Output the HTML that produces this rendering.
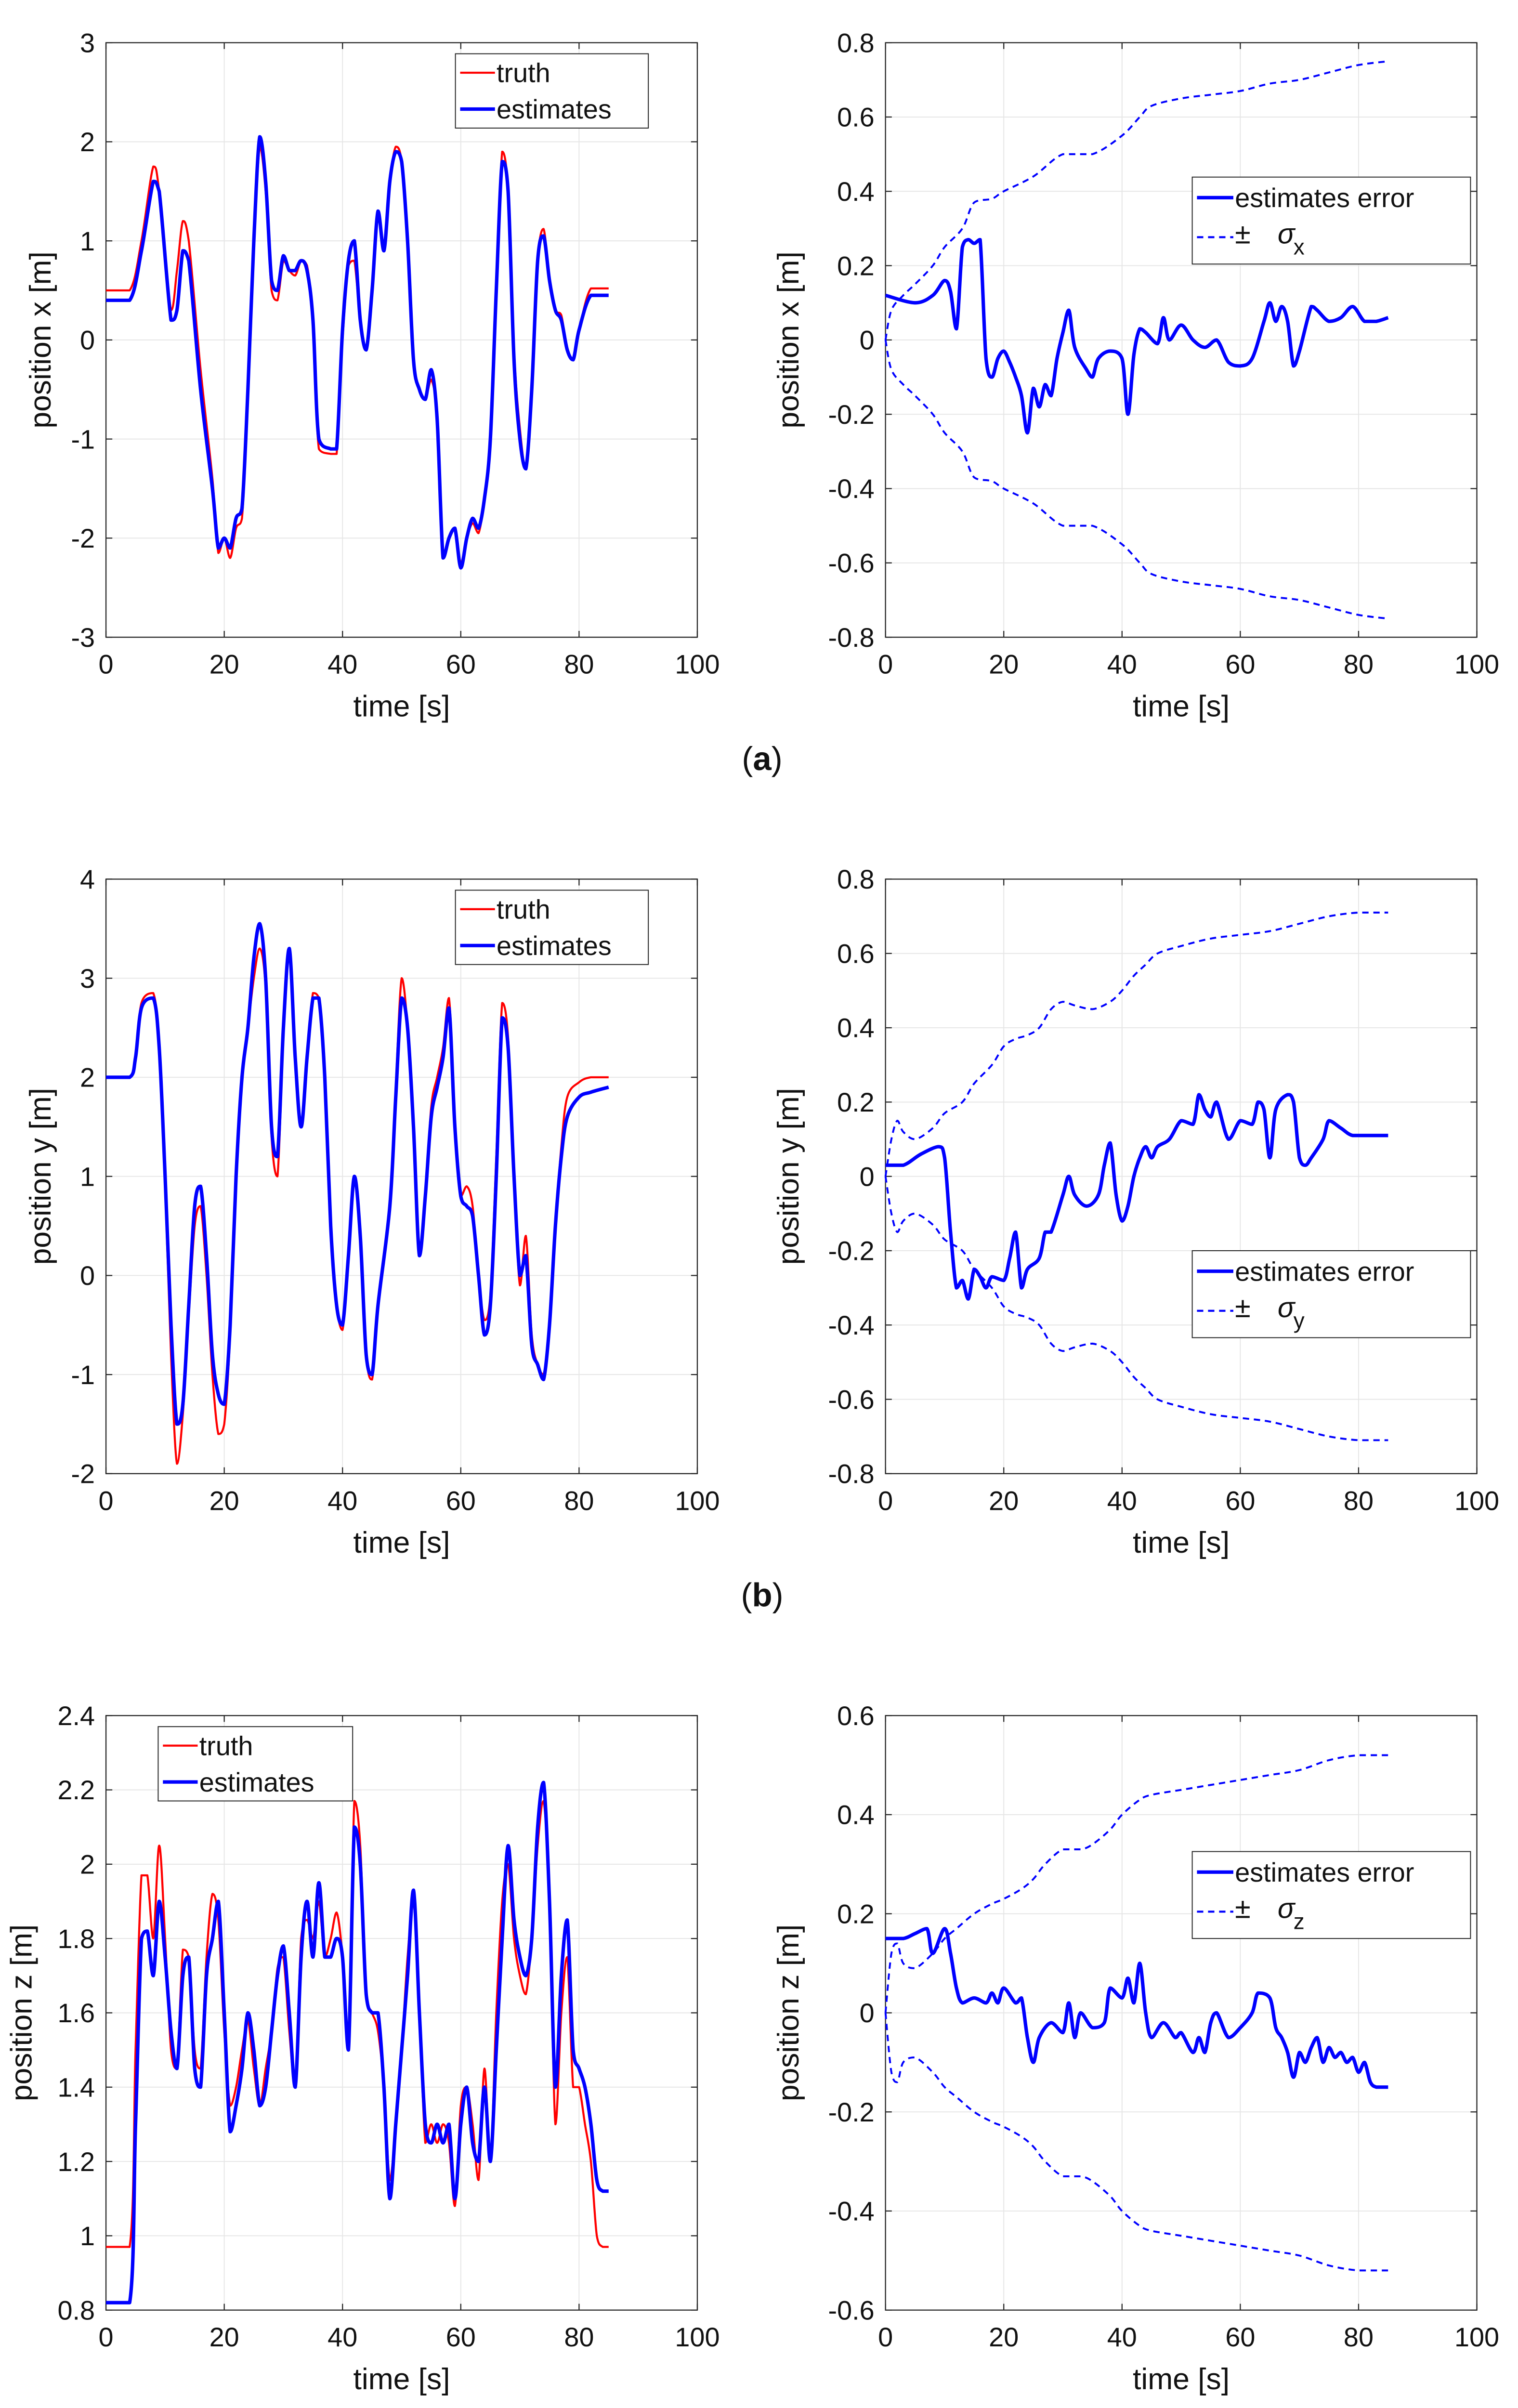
<!DOCTYPE html>
<html><head><meta charset="utf-8"><style>
html,body{margin:0;padding:0;background:#fff;width:3152px;height:5125px;overflow:hidden;position:relative}
svg{display:block;position:absolute;left:0;top:0}
text{font-family:"Liberation Sans",sans-serif;fill:#111}
</style></head><body>
<svg id="fig" width="3152" height="5125" viewBox="0 0 960 1561" xmlns="http://www.w3.org/2000/svg"></svg>
<script>
// ---------- data ----------
const aTimes=[0,4,6,8,9,11,12,13,14,16,18,19,20,21,22,23,24,25,26,27,28,29,30,31,32,33,34,35,36,38,39,40,41,42,43,44,45,46,47,48,49,50,51,52,53,54,55,56,57,58,59,60,61,62,63,64,65,66,67,68,69,70,71,72,73,74,75,76,77,78,79,80,82,85];
const aEst=[0.4,0.4,0.9,1.6,1.5,0.2,0.3,0.9,0.8,-0.5,-1.5,-2.1,-2.0,-2.1,-1.8,-1.7,-0.5,1.0,2.05,1.6,0.6,0.5,0.85,0.7,0.7,0.8,0.7,0.2,-1.0,-1.1,-1.1,0.1,0.8,1.0,0.2,-0.1,0.5,1.3,0.9,1.6,1.9,1.8,1.0,-0.2,-0.5,-0.6,-0.3,-0.8,-2.2,-2.0,-1.9,-2.3,-2.0,-1.8,-1.9,-1.6,-1.0,0.5,1.8,1.5,-0.2,-1.0,-1.3,-0.5,0.8,1.05,0.6,0.3,0.2,-0.1,-0.2,0.1,0.45,0.45];
const aTruth=[0.5,0.5,1.0,1.75,1.5,0.3,0.7,1.2,1.0,-0.3,-1.4,-2.15,-2.0,-2.2,-1.9,-1.8,-0.6,0.9,1.95,1.5,0.5,0.4,0.8,0.7,0.65,0.8,0.75,0.2,-1.1,-1.15,-1.15,0.0,0.75,0.8,0.2,-0.1,0.5,1.25,0.9,1.6,1.95,1.8,1.0,-0.2,-0.5,-0.6,-0.4,-0.8,-2.2,-2.0,-1.9,-2.25,-2.0,-1.85,-1.95,-1.6,-1.0,0.4,1.9,1.5,-0.1,-0.9,-1.3,-0.5,0.8,1.12,0.6,0.3,0.25,-0.1,-0.2,0.1,0.52,0.52];
const aeTimes=[0,5,8,10,11,12,13,14,15,16,17,18,19,20,21,22,23,24,25,26,27,28,29,30,31,32,34,35,36,38,40,41,42,43,44,46,47,48,50,52,54,56,58,60,62,64,65,66,67,68,69,70,72,73,75,77,79,81,83,85];
const aErr=[0.12,0.1,0.12,0.16,0.13,0.03,0.25,0.27,0.26,0.27,-0.05,-0.1,-0.05,-0.03,-0.06,-0.1,-0.15,-0.25,-0.13,-0.18,-0.12,-0.15,-0.05,0.02,0.08,-0.02,-0.08,-0.1,-0.05,-0.03,-0.05,-0.2,-0.04,0.03,0.02,-0.01,0.06,0.0,0.04,0.0,-0.02,0.0,-0.06,-0.07,-0.05,0.05,0.1,0.05,0.09,0.05,-0.07,-0.03,0.09,0.08,0.05,0.06,0.09,0.05,0.05,0.06];
const asTimes=[0,1,3,5,8,10,13,15,18,20,25,30,35,40,43,45,50,55,60,65,70,75,80,85];
const aSig=[0,0.08,0.12,0.15,0.2,0.25,0.3,0.37,0.38,0.4,0.44,0.5,0.5,0.55,0.6,0.63,0.65,0.66,0.67,0.69,0.7,0.72,0.74,0.75];

const bTimes=[0,4,5,6,8,9,10,11,12,13,14,15,16,17,18,19,20,21,22,23,24,25,26,27,28,29,30,31,32,33,34,35,36,37,38,39,40,41,42,43,44,45,46,48,49,50,51,52,53,54,55,56,57,58,59,60,61,62,63,64,65,66,67,68,69,70,71,72,73,74,75,76,77,78,80,82,85];
const bEst=[2.0,2.0,2.2,2.7,2.8,2.3,1.0,-0.5,-1.5,-1.3,-0.3,0.7,0.9,0.2,-0.8,-1.2,-1.3,-0.5,1.0,2.0,2.5,3.2,3.55,3.0,1.5,1.2,2.5,3.3,2.2,1.5,2.2,2.8,2.8,2.0,0.5,-0.3,-0.5,0.2,1.0,0.4,-0.8,-1.0,-0.3,0.7,1.8,2.8,2.5,1.5,0.2,0.8,1.6,1.9,2.2,2.7,1.5,0.8,0.7,0.6,0.0,-0.6,-0.3,1.0,2.6,2.3,1.0,0.0,0.2,-0.7,-0.9,-1.05,-0.5,0.5,1.2,1.6,1.8,1.85,1.9];
const bTruth=[2.0,2.0,2.2,2.75,2.85,2.3,0.9,-0.8,-1.9,-1.4,-0.4,0.5,0.7,0.0,-1.0,-1.6,-1.5,-0.6,0.9,2.0,2.5,3.0,3.3,2.9,1.4,1.0,2.4,3.25,2.2,1.5,2.2,2.85,2.8,2.0,0.5,-0.3,-0.55,0.2,1.0,0.4,-0.8,-1.05,-0.3,0.7,1.9,3.0,2.5,1.4,0.2,0.8,1.7,2.0,2.3,2.8,1.6,0.8,0.9,0.7,0.0,-0.45,-0.2,1.2,2.75,2.4,1.0,-0.1,0.4,-0.6,-0.9,-1.0,-0.5,0.5,1.3,1.8,1.95,2.0,2.0];
const beTimes=[0,3,6,9,10,11,12,13,14,15,16,17,18,20,21,22,23,24,26,27,28,30,31,32,34,36,37,38,39,40,41,42,43,44,45,46,48,50,52,53,54,55,56,58,60,62,63,64,65,66,68,69,70,71,72,74,75,77,79,82,85];
const bErr=[0.03,0.03,0.06,0.08,0.05,-0.15,-0.3,-0.28,-0.33,-0.25,-0.27,-0.3,-0.27,-0.28,-0.22,-0.15,-0.3,-0.25,-0.22,-0.15,-0.15,-0.05,0.0,-0.05,-0.08,-0.05,0.03,0.09,-0.05,-0.12,-0.08,0.0,0.05,0.08,0.05,0.08,0.1,0.15,0.14,0.22,0.18,0.16,0.2,0.1,0.15,0.14,0.2,0.18,0.05,0.18,0.22,0.2,0.05,0.03,0.05,0.1,0.15,0.13,0.11,0.11,0.11];
const bsTimes=[0,1,2,3,5,8,10,13,15,18,20,22,24,26,28,30,32,35,38,40,42,44,46,50,55,60,65,70,75,80,85];
const bSig=[0,0.1,0.15,0.12,0.1,0.13,0.17,0.2,0.25,0.3,0.35,0.37,0.38,0.4,0.45,0.47,0.46,0.45,0.47,0.5,0.54,0.57,0.6,0.62,0.64,0.65,0.66,0.68,0.7,0.71,0.71];

const cTimes=[0,4,5,6,7,8,9,10,11,12,13,14,15,16,17,18,19,20,21,22,23,24,25,26,27,28,29,30,31,32,33,34,35,36,37,38,39,40,41,42,43,44,45,46,47,48,49,50,51,52,53,54,55,56,57,58,59,60,61,62,63,64,65,66,67,68,69,70,71,72,73,74,75,76,77,78,79,80,81,82,83,84,85];
const cEst=[0.82,0.82,1.3,1.8,1.82,1.7,1.9,1.75,1.55,1.45,1.7,1.75,1.45,1.4,1.7,1.8,1.9,1.6,1.28,1.35,1.45,1.6,1.5,1.35,1.4,1.55,1.7,1.78,1.6,1.4,1.75,1.9,1.75,1.95,1.75,1.75,1.8,1.75,1.5,2.1,2.0,1.65,1.6,1.6,1.4,1.1,1.3,1.5,1.7,1.93,1.6,1.3,1.25,1.3,1.25,1.3,1.1,1.3,1.4,1.25,1.2,1.4,1.2,1.5,1.8,2.05,1.85,1.75,1.7,1.8,2.1,2.22,1.9,1.4,1.7,1.85,1.5,1.45,1.4,1.3,1.15,1.12,1.12];
const cTruth=[0.97,0.97,1.5,1.97,1.97,1.8,2.05,1.8,1.5,1.45,1.77,1.75,1.5,1.45,1.75,1.92,1.85,1.55,1.35,1.4,1.5,1.58,1.45,1.35,1.45,1.55,1.72,1.75,1.55,1.4,1.8,1.85,1.8,1.9,1.75,1.8,1.87,1.75,1.5,2.17,2.05,1.65,1.6,1.55,1.4,1.15,1.3,1.5,1.75,1.9,1.6,1.25,1.3,1.25,1.3,1.25,1.08,1.35,1.4,1.3,1.15,1.45,1.2,1.6,1.9,2.0,1.8,1.7,1.65,1.8,2.05,2.17,1.9,1.3,1.6,1.75,1.4,1.4,1.3,1.2,1.0,0.97,0.97];
const ceTimes=[0,3,5,7,8,10,11,12,13,15,17,18,19,20,22,23,24,25,26,28,30,31,32,33,35,37,38,40,41,42,43,44,45,47,49,50,52,53,54,55,56,58,60,62,63,65,66,67,68,69,70,71,72,73,74,75,76,77,78,79,80,81,82,83,84,85];
const cErr=[0.15,0.15,0.16,0.17,0.12,0.17,0.12,0.05,0.02,0.03,0.02,0.04,0.02,0.05,0.02,0.03,-0.05,-0.1,-0.05,-0.02,-0.04,0.02,-0.05,0.0,-0.03,-0.02,0.05,0.03,0.07,0.02,0.1,0.0,-0.05,-0.02,-0.05,-0.04,-0.08,-0.05,-0.08,-0.02,0.0,-0.05,-0.03,0.0,0.04,0.03,-0.03,-0.05,-0.08,-0.13,-0.08,-0.1,-0.07,-0.05,-0.1,-0.07,-0.09,-0.08,-0.1,-0.09,-0.12,-0.1,-0.14,-0.15,-0.15,-0.15];
const csTimes=[0,1,2,3,5,8,10,12,15,18,20,23,25,27,30,33,35,38,40,43,45,50,55,60,65,70,75,80,85];
const cSig=[0,0.12,0.14,0.1,0.09,0.12,0.15,0.17,0.2,0.22,0.23,0.25,0.27,0.3,0.33,0.33,0.34,0.37,0.4,0.43,0.44,0.45,0.46,0.47,0.48,0.49,0.51,0.52,0.52];

const xTicks=[0,20,40,60,80,100];
const NS="http://www.w3.org/2000/svg";
const svg=document.getElementById('fig');
function el(tag,attrs,parent,txt){const e=document.createElementNS(NS,tag);for(const k in attrs)e.setAttribute(k,attrs[k]);if(txt!==undefined)e.textContent=txt;(parent||svg).appendChild(e);return e;}
function fmt(v){const r=Math.round(v*10)/10;if(r===0)return '0';return String(r);}

function axes(name,x0,x1,y0,y1,ymin,ymax,yTicks,ylabel,ylabX){
  const g=el('g',{});
  
  
  const X=t=>x0+(t-0)/100*(x1-x0);
  const Y=v=>y1-(v-ymin)/(ymax-ymin)*(y1-y0);
  xTicks.forEach(t=>{el('line',{x1:X(t),x2:X(t),y1:y0,y2:y1,stroke:'#e6e6e6','stroke-width':0.6},g);});
  yTicks.forEach(v=>{el('line',{x1:x0,x2:x1,y1:Y(v),y2:Y(v),stroke:'#e6e6e6','stroke-width':0.6},g);});
  el('rect',{x:x0,y:y0,width:x1-x0,height:y1-y0,fill:'none',stroke:'#262626','stroke-width':0.7},g);
  xTicks.forEach(t=>{el('line',{x1:X(t),x2:X(t),y1:y1,y2:y1-4,stroke:'#262626','stroke-width':0.7},g);el('line',{x1:X(t),x2:X(t),y1:y0,y2:y0+4,stroke:'#262626','stroke-width':0.7},g);
    const tx=el('text',{x:X(t),y:y1+23,'font-size':17,'text-anchor':'middle'},g,String(t));});
  yTicks.forEach(v=>{el('line',{x1:x0,x2:x0+4,y1:Y(v),y2:Y(v),stroke:'#262626','stroke-width':0.7},g);el('line',{x1:x1,x2:x1-4,y1:Y(v),y2:Y(v),stroke:'#262626','stroke-width':0.7},g);
    const tx=el('text',{x:x0-7,y:Y(v)+6,'font-size':17,'text-anchor':'end'},g,fmt(v));});
  const xl=el('text',{x:(x0+x1)/2,y:y1+50,'font-size':19,'text-anchor':'middle'},g,'time [s]');
  
  
  const yl=el('text',{x:ylabX,y:(y0+y1)/2,'font-size':19,'text-anchor':'middle',transform:`rotate(-90 ${ylabX} ${(y0+y1)/2})`},g,ylabel);
  
  
  return {g,X,Y};
}
function clamp(v,a,b){const lo=Math.min(a,b),hi=Math.max(a,b);return Math.min(Math.max(v,lo),hi);}
function series(ax,times,vals,color,w,dash,name,neg){
  const P=times.map((t,i)=>[ax.X(t),ax.Y(neg?-vals[i]:vals[i])]);
  let d='M'+P[0][0].toFixed(2)+','+P[0][1].toFixed(2);
  for(let i=0;i<P.length-1;i++){
    const p0=P[i-1]||P[i],p1=P[i],p2=P[i+1],p3=P[i+2]||P[i+1];
    const k=1/6;
    const c1=[p1[0]+(p2[0]-p0[0])*k,p1[1]+(p2[1]-p0[1])*k];
    const c2=[p2[0]-(p3[0]-p1[0])*k,p2[1]-(p3[1]-p1[1])*k];
    c1[0]=clamp(c1[0],p1[0],p2[0]);c2[0]=clamp(c2[0],p1[0],p2[0]);
    c1[1]=clamp(c1[1],p1[1],p2[1]);c2[1]=clamp(c2[1],p1[1],p2[1]);
    d+='C'+c1.map(v=>v.toFixed(2)).join(',')+' '+c2.map(v=>v.toFixed(2)).join(',')+' '+p2.map(v=>v.toFixed(2)).join(',');
  }
  const p=el('path',{d,fill:'none',stroke:color,'stroke-width':w,'stroke-linejoin':'round','stroke-dasharray':dash||'none'},ax.g);
  
  
}
function legendTE(ax,x,y,w,h){
  const g=el('g',{},ax.g);
  
  
  el('rect',{x,y,width:w,height:h,fill:'#fff',stroke:'#262626','stroke-width':0.6},g);
  el('line',{x1:x+3,x2:x+25,y1:y+12,y2:y+12,stroke:'#f00','stroke-width':1.3},g);
  el('text',{x:x+26,y:y+18,'font-size':17},g,'truth');
  el('line',{x1:x+3,x2:x+25,y1:y+35,y2:y+35,stroke:'#00f','stroke-width':2.2},g);
  el('text',{x:x+26,y:y+41,'font-size':17},g,'estimates');
}
function legendES(ax,x,y,sub){
  const g=el('g',{},ax.g);
  
  
  el('rect',{x,y,width:176,height:55,fill:'#fff',stroke:'#262626','stroke-width':0.6},g);
  el('line',{x1:x+3,x2:x+26,y1:y+13,y2:y+13,stroke:'#00f','stroke-width':2.2},g);
  el('text',{x:x+27,y:y+19,'font-size':17},g,'estimates error');
  el('line',{x1:x+3,x2:x+26,y1:y+38,y2:y+38,stroke:'#00f','stroke-width':1.3,'stroke-dasharray':'4,3'},g);
  el('text',{x:x+27,y:y+42,'font-size':18},g,'±');
  el('text',{x:x+54,y:y+42,'font-size':18,'font-style':'italic','font-family':'Liberation Serif'},g,'σ');
  el('text',{x:x+64,y:y+49,'font-size':14},g,sub);
}
function caption(txt,y){
  const t=el('text',{x:482,y,'font-size':21,'text-anchor':'middle','font-family':'Liberation Serif'});
  
  
  el('tspan',{},t,'(');
  el('tspan',{'font-weight':'bold'},t,txt);
  el('tspan',{},t,')');
}
const yA=[-3,-2,-1,0,1,2,3], yE=[-0.8,-0.6,-0.4,-0.2,0,0.2,0.4,0.6,0.8];
// (a)
let L=axes('plot-a-position',67,441,27,403,-3,3,yA,'position x [m]',32);
series(L,aTimes,aTruth,'#f00',1.3,null,'truth-line');
series(L,aTimes,aEst,'#00f',2.2,null,'estimates-line');
legendTE(L,288,34,122,47);
let R=axes('plot-a-error',560,934,27,403,-0.8,0.8,yE,'position x [m]',505);
series(R,asTimes,aSig,'#00f',1.2,'4,3','sigma-upper');
series(R,asTimes,aSig,'#00f',1.2,'4,3','sigma-lower',true);
series(R,aeTimes,aErr,'#00f',2.2,null,'error-line');
legendES(R,754,112,'x');
caption('a',487);
// (b)
L=axes('plot-b-position',67,441,556,932,-2,4,[-2,-1,0,1,2,3,4],'position y [m]',32);
series(L,bTimes,bTruth,'#f00',1.3,null,'truth-line');
series(L,bTimes,bEst,'#00f',2.2,null,'estimates-line');
legendTE(L,288,563,122,47);
R=axes('plot-b-error',560,934,556,932,-0.8,0.8,yE,'position y [m]',505);
series(R,bsTimes,bSig,'#00f',1.2,'4,3','sigma-upper');
series(R,bsTimes,bSig,'#00f',1.2,'4,3','sigma-lower',true);
series(R,beTimes,bErr,'#00f',2.2,null,'error-line');
legendES(R,754,791,'y');
caption('b',1016);
// (c)
L=axes('plot-c-position',67,441,1085,1461,0.8,2.4,[0.8,1,1.2,1.4,1.6,1.8,2,2.2,2.4],'position z [m]',20);
series(L,cTimes,cTruth,'#f00',1.3,null,'truth-line');
series(L,cTimes,cEst,'#00f',2.2,null,'estimates-line');
legendTE(L,100,1092,123,47);
R=axes('plot-c-error',560,934,1085,1461,-0.6,0.6,[-0.6,-0.4,-0.2,0,0.2,0.4,0.6],'position z [m]',505);
series(R,csTimes,cSig,'#00f',1.2,'4,3','sigma-upper');
series(R,csTimes,cSig,'#00f',1.2,'4,3','sigma-lower',true);
series(R,ceTimes,cErr,'#00f',2.2,null,'error-line');
legendES(R,754,1171,'z');
caption('c',1541);
</script>
</body></html>
